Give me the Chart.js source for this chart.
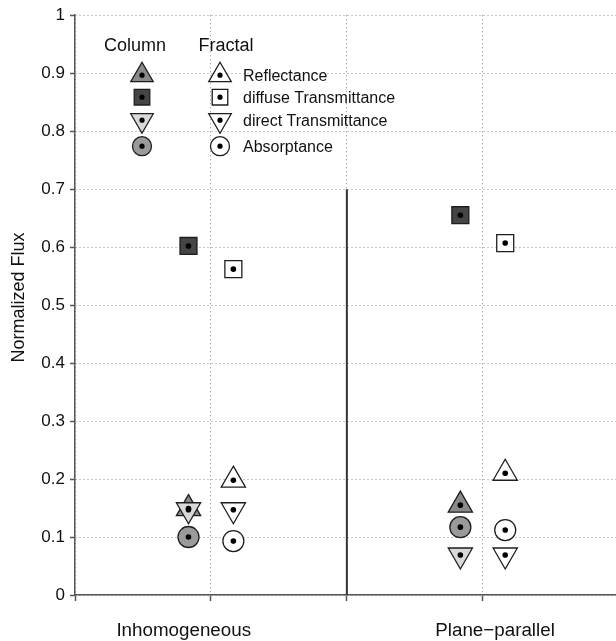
<!DOCTYPE html>
<html>
<head>
<meta charset="utf-8">
<title>Normalized Flux</title>
<script src="https://cdn.jsdelivr.net/npm/chart.js@4/dist/chart.umd.min.js"></script>
<style>
  html, body { margin: 0; padding: 0; background: #fff; }
  #flux_chart_box { width: 616px; height: 641px; }
</style>
</head>
<body>
<div id="flux_chart_box"><canvas id="flux_chart" width="616" height="641"></canvas></div>
<script>
// Categories on the x axis (markers grouped round x = 1 and x = 3)
const categories = ['Inhomogeneous', 'Plane\u2212parallel'];
const category_x = [1, 3];
const category_label_x = [0.8, 3.09];
const column_offset = -0.165;
const fractal_offset = 0.165;

// x ticks carrying grid lines
const x_ticks = [0, 1, 2, 3];

// Flux components
const quantities = ['Reflectance', 'diffuse Transmittance', 'direct Transmittance', 'Absorptance'];

// Column model values (Inhomogeneous, Plane-parallel)
const column_reflectance = [0.149, 0.155];
const column_diffuse_transmittance = [0.602, 0.655];
const column_direct_transmittance = [0.147, 0.069];
const column_absorptance = [0.100, 0.117];

// Fractal model values (Inhomogeneous, Plane-parallel)
const fractal_reflectance = [0.198, 0.210];
const fractal_diffuse_transmittance = [0.562, 0.607];
const fractal_direct_transmittance = [0.147, 0.069];
const fractal_absorptance = [0.093, 0.112];

// y axis ticks
const y_ticks = [0, 0.1, 0.2, 0.3, 0.4, 0.5, 0.6, 0.7, 0.8, 0.9, 1];

// divider between the two cases
const divider_x = 2;
const divider_top = 0.7;

const font_family = '"Liberation Sans", Arial, Helvetica, sans-serif';
const edge_color = '#1e1e1e';
const grid_color = '#8c8c8c';

// marker style per quantity: shape, rotation, radius, column fill
const marker_styles = [
  { pointStyle: 'triangle', rotation: 0, radius: 14, column_fill: '#8a8a8a' },
  { pointStyle: 'rect', rotation: 0, radius: 12, column_fill: '#454545' },
  { pointStyle: 'triangle', rotation: 180, radius: 14, column_fill: '#d9d9d9' },
  { pointStyle: 'circle', rotation: 0, radius: 10.5, column_fill: '#9a9a9a' }
];

function to_points(values, offset) {
  return values.map((v, i) => ({ x: category_x[i] + offset, y: v }));
}

function marker_dataset(label, values, offset, style, fill, order) {
  return {
    label: label,
    data: to_points(values, offset),
    pointStyle: style.pointStyle,
    rotation: style.rotation,
    pointRadius: style.radius,
    pointHoverRadius: style.radius,
    backgroundColor: fill,
    borderColor: edge_color,
    pointBorderWidth: 1.3,
    showLine: false,
    order: order,
    markerDot: true
  };
}

const column_values = [column_reflectance, column_diffuse_transmittance, column_direct_transmittance, column_absorptance];
const fractal_values = [fractal_reflectance, fractal_diffuse_transmittance, fractal_direct_transmittance, fractal_absorptance];

// direct transmittance sits above reflectance where they overlap
const draw_order = [4, 3, 1, 2];

const datasets = [];
quantities.forEach((q, i) => {
  datasets.push(marker_dataset('Column ' + q, column_values[i], column_offset, marker_styles[i], marker_styles[i].column_fill, draw_order[i]));
  datasets.push(marker_dataset('Fractal ' + q, fractal_values[i], fractal_offset, marker_styles[i], '#ffffff', draw_order[i]));
});

datasets.push({
  label: 'divider',
  type: 'line',
  data: [{ x: divider_x, y: 0 }, { x: divider_x, y: divider_top }],
  borderColor: '#333',
  borderWidth: 2,
  pointRadius: 0,
  showLine: true,
  order: 10
});

// small black dot in the middle of every marker
const marker_dots = {
  id: 'marker_dots',
  afterDatasetsDraw(chart) {
    const ctx = chart.ctx;
    ctx.save();
    ctx.fillStyle = '#000';
    chart.data.datasets.forEach((ds, i) => {
      if (!ds.markerDot) return;
      chart.getDatasetMeta(i).data.forEach(pt => {
        ctx.beginPath();
        ctx.arc(pt.x, pt.y, 2.8, 0, Math.PI * 2);
        ctx.fill();
      });
    });
    ctx.restore();
  }
};

// y title, centred between the top of the canvas and the x axis
const y_title = {
  id: 'y_title',
  afterDraw(chart) {
    const ctx = chart.ctx;
    ctx.save();
    ctx.translate(19, chart.chartArea.bottom / 2);
    ctx.rotate(-Math.PI / 2);
    ctx.fillStyle = '#111';
    ctx.font = '18px ' + font_family;
    ctx.textAlign = 'center';
    ctx.textBaseline = 'middle';
    ctx.fillText('Normalized Flux', 0, 0);
    ctx.restore();
  }
};

// two-column key drawn inside the plot, top left
const key_box = {
  id: 'key_box',
  afterDraw(chart) {
    const ctx = chart.ctx;
    const left = chart.chartArea.left;
    const top = chart.chartArea.top;
    const col_x = left + 67;
    const frac_x = left + 145;
    const text_x = left + 168;
    const rows = [60, 82, 105, 131];

    ctx.save();
    ctx.fillStyle = '#111';
    ctx.textBaseline = 'middle';
    ctx.textAlign = 'center';
    ctx.font = '18px ' + font_family;
    ctx.fillText('Column', left + 60, top + 31);
    ctx.fillText('Fractal', left + 151, top + 31);

    ctx.textAlign = 'left';
    ctx.font = '16px ' + font_family;
    quantities.forEach((q, i) => {
      const st = marker_styles[i];
      const y = top + rows[i];
      [[col_x, st.column_fill], [frac_x, '#ffffff']].forEach(([x, fill]) => {
        ctx.fillStyle = fill;
        ctx.strokeStyle = edge_color;
        ctx.lineWidth = 1.3;
        Chart.helpers.drawPoint(ctx, {
          pointStyle: st.pointStyle,
          rotation: st.rotation,
          radius: st.radius - 1,
          borderWidth: 1.3
        }, x, y);
        ctx.fillStyle = '#000';
        ctx.beginPath();
        ctx.arc(x, y, 2.6, 0, Math.PI * 2);
        ctx.fill();
      });
      ctx.fillStyle = '#111';
      ctx.fillText(q, text_x, y + 1);
    });
    ctx.restore();
  }
};

// label-only ticks get no grid line and no tick mark
const is_label_tick = c => c.tick && category_label_x.includes(c.tick.value);

const ctx = document.getElementById('flux_chart').getContext('2d');

const flux_chart = new Chart(ctx, {
  type: 'scatter',
  data: { datasets: datasets },
  options: {
    responsive: false,
    animation: false,
    events: [],
    layout: {
      autoPadding: false,
      padding: { top: 15, right: 0, left: 0, bottom: 0 }
    },
    plugins: {
      legend: { display: false },
      tooltip: { enabled: false }
    },
    scales: {
      x: {
        type: 'linear',
        min: 0,
        max: 3.98,
        afterBuildTicks: scale => {
          scale.ticks = x_ticks.concat(category_label_x)
            .sort((a, b) => a - b)
            .map(v => ({ value: v }));
        },
        afterFit: scale => {
          scale.height = 46;
          // the axis runs right up to the edge of the canvas
          scale.paddingLeft = 0;
          scale.paddingRight = 0;
        },
        grid: {
          tickLength: 6,
          lineWidth: 1,
          color: c => is_label_tick(c) ? 'rgba(0,0,0,0)' : grid_color,
          tickColor: c => is_label_tick(c) ? 'rgba(0,0,0,0)' : '#555',
          tickWidth: 1.5,
          tickBorderDash: []
        },
        border: { display: true, color: '#555', width: 1.5, dash: [1, 3] },
        ticks: {
          autoSkip: false,
          maxRotation: 0,
          padding: 19,
          color: '#111',
          font: { family: font_family, size: 18.8 },
          callback: value => {
            const k = category_label_x.indexOf(value);
            return k >= 0 ? categories[k] : '';
          }
        }
      },
      y: {
        min: 0,
        max: 1,
        afterBuildTicks: scale => {
          scale.ticks = y_ticks.map(v => ({ value: v }));
        },
        afterFit: scale => { scale.width = 75; },
        grid: {
          tickLength: 5,
          lineWidth: 1,
          color: grid_color,
          tickColor: '#555',
          tickWidth: 1.5,
          tickBorderDash: []
        },
        border: { display: true, color: '#555', width: 1.5, dash: [1, 3] },
        ticks: {
          padding: 5,
          color: '#111',
          font: { family: font_family, size: 17 },
          callback: value => String(+value.toFixed(1))
        }
      }
    }
  },
  plugins: [marker_dots, key_box, y_title]
});
</script>
</body>
</html>
